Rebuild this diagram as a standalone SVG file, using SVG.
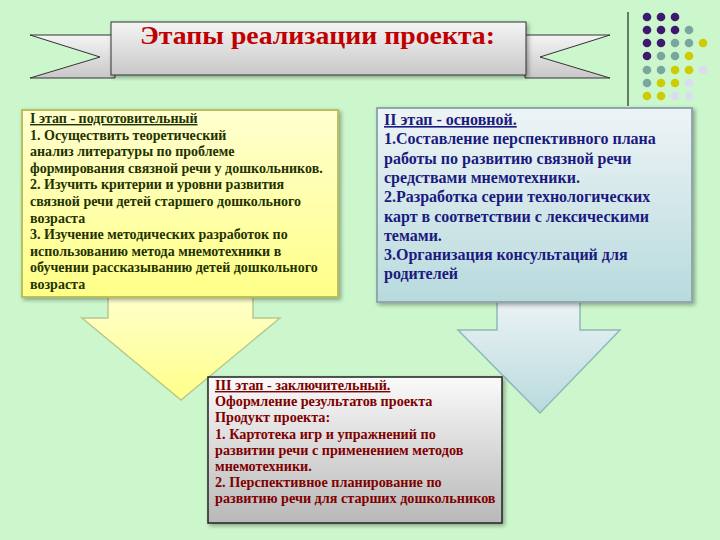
<svg xmlns="http://www.w3.org/2000/svg" width="720" height="540" viewBox="0 0 720 540">
<defs>
<linearGradient id="ban" x1="0" y1="0" x2="0" y2="1"><stop offset="0" stop-color="#f4f4f4"/><stop offset="1" stop-color="#c8c8c8"/></linearGradient>
<linearGradient id="yel" x1="0" y1="0" x2="0" y2="1"><stop offset="0" stop-color="#ffffd0"/><stop offset="1" stop-color="#ffff88"/></linearGradient>
<linearGradient id="blu" x1="0" y1="0" x2="0" y2="1"><stop offset="0" stop-color="#eef4f6"/><stop offset="1" stop-color="#b8dadd"/></linearGradient>
<linearGradient id="gry" x1="0" y1="0" x2="0" y2="1"><stop offset="0" stop-color="#fafafa"/><stop offset="1" stop-color="#b8b8b8"/></linearGradient>
<filter id="sh" x="-10%" y="-10%" width="120%" height="120%"><feDropShadow dx="2" dy="2" stdDeviation="2" flood-opacity="0.35"/></filter>
<style>
text{font-family:"Liberation Serif","Times New Roman",serif;font-weight:bold}
.t1{font-size:14px;fill:#1f3300}
.t2{font-size:16px;fill:#1a1a80}
.t3{font-size:14.2px;fill:#800000}
.u{text-decoration:underline}
.P{fill:#3d1a6e}.T{fill:#79a7a0}.Y{fill:#cccc00}.L{fill:#dcdcf0}
</style>
</defs>
<rect width="720" height="540" fill="#ccf7cc"/>
<g id="banner">
<polygon points="30,35 115,35 115,78 30,78 100,57" fill="url(#ban)" stroke="#333" stroke-width="1"/>
<polygon points="610,35 525,35 525,78 610,78 540,57" fill="url(#ban)" stroke="#333" stroke-width="1"/>
<rect x="111" y="22" width="415" height="53" fill="url(#ban)" stroke="#333" stroke-width="1" filter="url(#sh)"/>
<text x="140" y="44" textLength="355" lengthAdjust="spacingAndGlyphs" font-family="Liberation Serif, serif" font-size="26" fill="#c00000">Этапы реализации проекта:</text>
</g>
<g id="dots">
<line x1="628" y1="12" x2="628" y2="106" stroke="#000" stroke-width="1"/>
<g>
<circle class="P" cx="647" cy="17" r="4.3"/><circle class="P" cx="661" cy="17" r="4.3"/><circle class="P" cx="675" cy="17" r="4.3"/>
<circle class="P" cx="647" cy="30" r="4.3"/><circle class="P" cx="661" cy="30" r="4.3"/><circle class="P" cx="675" cy="30" r="4.3"/><circle class="T" cx="689" cy="30" r="4.3"/>
<circle class="P" cx="647" cy="43" r="4.3"/><circle class="P" cx="661" cy="43" r="4.3"/><circle class="T" cx="675" cy="43" r="4.3"/><circle class="T" cx="689" cy="43" r="4.3"/><circle class="Y" cx="703" cy="43" r="4.3"/>
<circle class="P" cx="647" cy="56" r="4.3"/><circle class="T" cx="661" cy="56" r="4.3"/><circle class="T" cx="675" cy="56" r="4.3"/><circle class="Y" cx="689" cy="56" r="4.3"/>
<circle class="T" cx="647" cy="70" r="4.3"/><circle class="T" cx="661" cy="70" r="4.3"/><circle class="Y" cx="675" cy="70" r="4.3"/><circle class="Y" cx="689" cy="70" r="4.3"/><circle class="L" cx="703" cy="70" r="4.3"/>
<circle class="T" cx="647" cy="83" r="4.3"/><circle class="Y" cx="661" cy="83" r="4.3"/><circle class="Y" cx="675" cy="83" r="4.3"/><circle class="L" cx="689" cy="83" r="4.3"/>
<circle class="Y" cx="647" cy="96" r="4.3"/><circle class="Y" cx="661" cy="96" r="4.3"/><circle class="L" cx="675" cy="96" r="4.3"/><circle class="L" cx="689" cy="96" r="4.3"/>
</g>
</g>
<g id="connectors">
<polygon points="108,290 253,290 253,318 280,318 181,400 82,318 108,318" fill="url(#yel)" stroke="#b8c890" stroke-width="1.5"/>
<polygon points="497,295 580,295 580,330 620,330 540,413 458,330 497,330" fill="url(#blu)" stroke="#8fb8bc" stroke-width="1.5"/>
</g>
<g id="stage1">
<rect x="22" y="110" width="316" height="187" fill="url(#yel)" stroke="#b8c060" stroke-width="2" filter="url(#sh)"/>
<text class="t1" x="30" y="123"><tspan class="u">I этап - подготовительный</tspan>
<tspan x="30" dy="16.6">1. Осуществить теоретический</tspan>
<tspan x="30" dy="16.6">анализ  литературы по проблеме</tspan>
<tspan x="30" dy="16.6">формирования связной речи у дошкольников.</tspan>
<tspan x="30" dy="16.6">2. Изучить критерии  и уровни развития</tspan>
<tspan x="30" dy="16.6">связной речи детей старшего дошкольного</tspan>
<tspan x="30" dy="16.6">возраста</tspan>
<tspan x="30" dy="16.6">3. Изучение методических разработок  по</tspan>
<tspan x="30" dy="16.6">использованию метода мнемотехники в</tspan>
<tspan x="30" dy="16.6">обучении рассказыванию детей дошкольного</tspan>
<tspan x="30" dy="16.6">возраста</tspan></text>
</g>
<g id="stage2">
<rect x="377" y="108" width="315" height="194" fill="url(#blu)" stroke="#8fa8b0" stroke-width="2" filter="url(#sh)"/>
<text class="t2" x="384" y="125"><tspan class="u">II этап - основной.</tspan>
<tspan x="384" dy="19.3">1.Составление перспективного плана</tspan>
<tspan x="384" dy="19.3">работы по развитию  связной речи</tspan>
<tspan x="384" dy="19.3">средствами мнемотехники.</tspan>
<tspan x="384" dy="19.3">2.Разработка серии технологических</tspan>
<tspan x="384" dy="19.3">карт в соответствии с лексическими</tspan>
<tspan x="384" dy="19.3">темами.</tspan>
<tspan x="384" dy="19.3">3.Организация  консультаций для</tspan>
<tspan x="384" dy="19.3">родителей</tspan></text>
</g>
<g id="stage3">
<rect x="208" y="377" width="294" height="146" fill="url(#gry)" stroke="#222" stroke-width="1.5" filter="url(#sh)"/>
<text class="t3" x="215" y="390"><tspan class="u">III этап - заключительный.</tspan>
<tspan x="215" dy="16.2">Оформление результатов проекта</tspan>
<tspan x="215" dy="16.2">Продукт проекта:</tspan>
<tspan x="215" dy="16.2">1. Картотека игр и упражнений по</tspan>
<tspan x="215" dy="16.2">развитии речи с применением методов</tspan>
<tspan x="215" dy="16.2">мнемотехники.</tspan>
<tspan x="215" dy="16.2">2. Перспективное планирование по</tspan>
<tspan x="215" dy="16.2">развитию речи для старших дошкольников</tspan></text>
</g>
</svg>
